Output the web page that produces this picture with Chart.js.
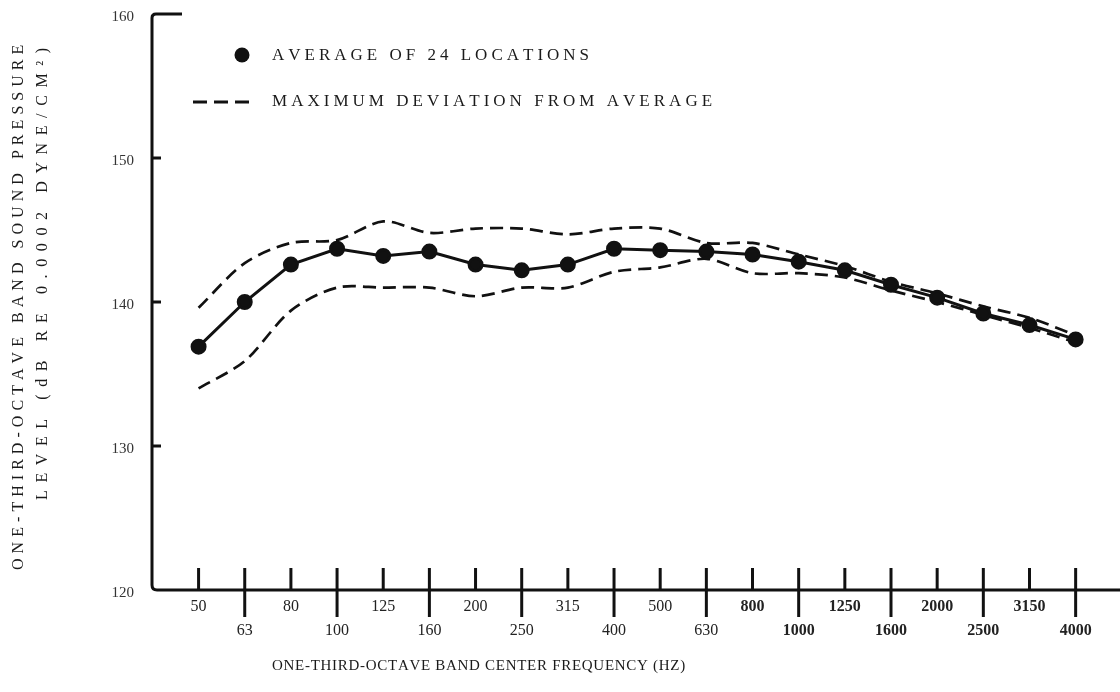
<!DOCTYPE html>
<html>
<head>
<meta charset="utf-8">
<title>One-third-octave band sound pressure level</title>
<script src="https://cdn.jsdelivr.net/npm/chart.js@4/dist/chart.umd.min.js"></script>
<style>
  html, body { margin: 0; padding: 0; background: #fff; }
  #wrap { width: 1120px; height: 692px; }
</style>
</head>
<body>
<div id="wrap"><canvas id="c" width="1120" height="692"></canvas></div>
<script>
// One-third-octave band centre frequencies (Hz)
const FREQUENCIES = ['50','63','80','100','125','160','200','250','315','400',
                     '500','630','800','1000','1250','1600','2000','2500','3150','4000'];
// Average band level over the 24 locations (dB)
const AVERAGE = [136.9, 140.0, 142.6, 143.7, 143.2, 143.5, 142.6, 142.2, 142.6, 143.7,
                 143.6, 143.5, 143.3, 142.8, 142.2, 141.2, 140.3, 139.2, 138.4, 137.4];
// Upper envelope of the maximum deviation from the average (dB)
const DEV_UPPER = [139.6, 142.7, 144.1, 144.3, 145.6, 144.8, 145.1, 145.1, 144.7, 145.1,
                   145.1, 144.1, 144.1, 143.3, 142.5, 141.4, 140.6, 139.7, 138.9, 137.7];
// Lower envelope of the maximum deviation from the average (dB)
const DEV_LOWER = [134.0, 135.9, 139.4, 141.0, 141.0, 141.0, 140.4, 141.0, 141.0, 142.1,
                   142.4, 143.0, 142.0, 142.0, 141.7, 140.8, 140.0, 139.1, 138.2, 137.2];
// Level axis ticks (dB)
const LEVEL_TICKS = [120, 130, 140, 150, 160];

const LEGEND_AVG = 'AVERAGE OF 24 LOCATIONS';
const LEGEND_DEV = 'MAXIMUM DEVIATION FROM AVERAGE';
const X_TITLE = 'ONE-THIRD-OCTAVE BAND CENTER FREQUENCY (HZ)';
const Y_TITLE_1 = 'ONE-THIRD-OCTAVE BAND SOUND PRESSURE';
const Y_TITLE_2 = 'LEVEL (dB RE 0.0002 DYNE/CM\u00B2)';

const SERIF = '"Liberation Serif", "DejaVu Serif", serif';
const INK = '#111';

const toPoints = arr => arr.map((v, i) => ({ x: i, y: v }));

// Draws text letter by letter, spreading it over the given width.
function spreadText(ctx, text, x, y, width) {
  const natural = ctx.measureText(text).width;
  const gap = (width - natural) / Math.max(1, text.length - 1);
  let cx = x;
  for (const ch of text) {
    ctx.fillText(ch, cx, y);
    cx += ctx.measureText(ch).width + gap;
  }
}

const decorations = {
  id: 'decorations',
  afterDraw(chart) {
    const { ctx, chartArea, width } = chart;
    const xs = chart.scales.x, ys = chart.scales.y;
    const left = chartArea.left, bottom = chartArea.bottom;
    const top = ys.getPixelForValue(ys.max);
    ctx.save();
    ctx.strokeStyle = INK;
    ctx.fillStyle = INK;
    ctx.lineCap = 'butt';
    ctx.lineJoin = 'round';

    // axes: level axis with a hook at the top, frequency axis to the page edge
    ctx.lineWidth = 3;
    ctx.beginPath();
    ctx.moveTo(left + 30, top);
    ctx.lineTo(left + 4, top);
    ctx.quadraticCurveTo(left, top, left, top + 4);
    ctx.lineTo(left, bottom - 5);
    ctx.quadraticCurveTo(left, bottom, left + 5, bottom);
    ctx.lineTo(width, bottom);
    ctx.stroke();

    // frequency ticks: every other one crosses the axis
    FREQUENCIES.forEach((f, i) => {
      const px = xs.getPixelForValue(i);
      ctx.beginPath();
      ctx.moveTo(px, bottom - 22);
      ctx.lineTo(px, i % 2 === 0 ? bottom : bottom + 27);
      ctx.stroke();
    });

    // level ticks pointing into the plot
    LEVEL_TICKS.forEach(v => {
      if (v === ys.min || v === ys.max) return;
      const py = ys.getPixelForValue(v);
      ctx.beginPath();
      ctx.moveTo(left, py);
      ctx.lineTo(left + 9, py);
      ctx.stroke();
    });

    // legend
    ctx.beginPath();
    ctx.arc(242, 55, 7.5, 0, Math.PI * 2);
    ctx.fill();
    ctx.setLineDash([14, 7]);
    ctx.lineWidth = 3;
    ctx.beginPath();
    ctx.moveTo(193, 102);
    ctx.lineTo(256, 102);
    ctx.stroke();
    ctx.setLineDash([]);

    ctx.fillStyle = '#1a1a1a';
    ctx.textBaseline = 'middle';
    ctx.textAlign = 'left';
    ctx.font = '17px ' + SERIF;
    spreadText(ctx, LEGEND_AVG, 272, 56, 313);
    spreadText(ctx, LEGEND_DEV, 272, 102, 436);

    // axis titles
    ctx.font = '15px ' + SERIF;
    spreadText(ctx, X_TITLE, 272, 666, 410);

    ctx.font = '16px ' + SERIF;
    ctx.save();
    ctx.translate(19, 570);
    ctx.rotate(-Math.PI / 2);
    spreadText(ctx, Y_TITLE_1, 0, 0, 522);
    ctx.restore();
    ctx.save();
    ctx.translate(43, 500);
    ctx.rotate(-Math.PI / 2);
    spreadText(ctx, Y_TITLE_2, 0, 0, 452);
    ctx.restore();

    ctx.restore();
  }
};

const dashed = {
  borderColor: INK,
  borderWidth: 2.7,
  borderDash: [13, 7],
  pointRadius: 0,
  tension: 0.3,
  fill: false
};

new Chart(document.getElementById('c'), {
  type: 'line',
  data: {
    datasets: [
      {
        label: LEGEND_AVG,
        data: toPoints(AVERAGE),
        borderColor: INK,
        borderWidth: 3,
        pointRadius: 6.5,
        pointBackgroundColor: INK,
        pointBorderColor: INK,
        tension: 0,
        fill: false
      },
      Object.assign({ label: LEGEND_DEV, data: toPoints(DEV_UPPER) }, dashed),
      Object.assign({ label: LEGEND_DEV, data: toPoints(DEV_LOWER) }, dashed)
    ]
  },
  options: {
    responsive: false,
    animation: false,
    clip: false,
    layout: { padding: { top: 14, right: 0, left: 0, bottom: 0 } },
    plugins: { legend: { display: false }, tooltip: { enabled: false } },
    scales: {
      x: {
        type: 'linear',
        min: -1.009,
        max: 19.755,
        afterBuildTicks: s => { s.ticks = FREQUENCIES.map((_, i) => ({ value: i })); },
        afterFit: s => { s.height = 102; s.paddingLeft = 0; s.paddingRight = 0; },
        grid: { display: false, drawTicks: false },
        border: { display: false },
        ticks: {
          autoSkip: false,
          maxRotation: 0,
          padding: 5,
          color: '#222',
          font: c => ({ family: SERIF, size: 16, lineHeight: 1.5,
                        weight: c.index >= 12 ? 'bold' : 'normal' }),
          callback: (v, i) => (i % 2 === 0 ? [FREQUENCIES[i], ''] : ['', FREQUENCIES[i]])
        }
      },
      y: {
        min: 120,
        max: 160,
        afterBuildTicks: s => { s.ticks = LEVEL_TICKS.map(v => ({ value: v })); },
        afterFit: s => { s.width = 152; s.paddingTop = 0; s.paddingBottom = 0; },
        grid: { display: false, drawTicks: false },
        border: { display: false },
        ticks: {
          padding: 18,
          color: '#333',
          font: { family: SERIF, size: 15 },
          labelOffset: 3
        }
      }
    }
  },
  plugins: [decorations]
});
</script>
</body>
</html>
